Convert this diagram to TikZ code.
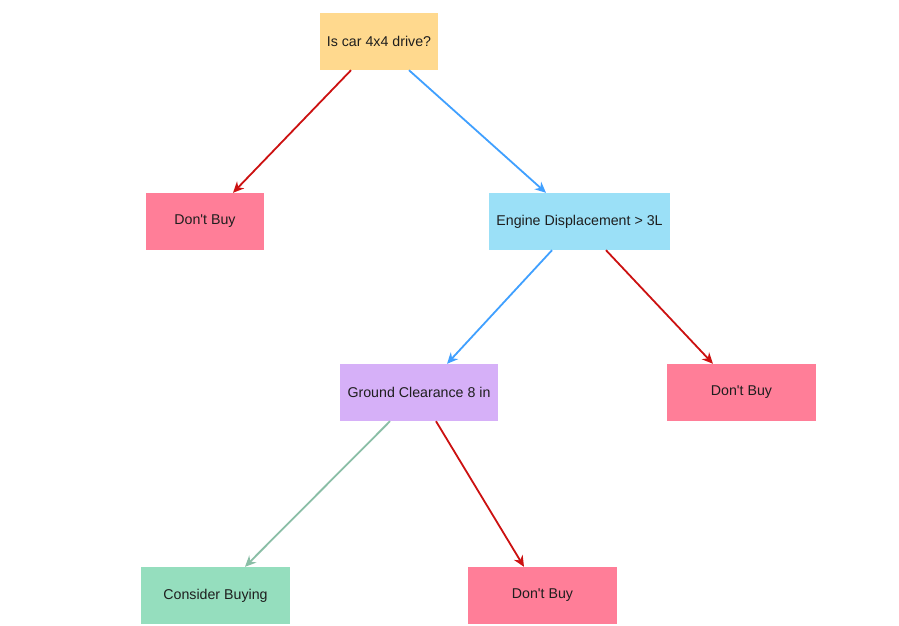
\documentclass[tikz,border=0pt]{standalone}
\usepackage{fontspec}
\setmainfont{Liberation Sans}[Ligatures=TeXOff]
\usetikzlibrary{arrows.meta}

\definecolor{qyellow}{RGB}{255,217,142}
\definecolor{qpink}{RGB}{255,126,152}
\definecolor{qblue}{RGB}{155,224,247}
\definecolor{qpurple}{RGB}{214,176,248}
\definecolor{qgreen}{RGB}{149,222,190}
\definecolor{noedge}{RGB}{204,17,17}
\definecolor{yesedge}{RGB}{64,160,255}
\definecolor{okedge}{RGB}{138,190,166}
\definecolor{txt}{RGB}{30,30,30}

\tikzset{
  box/.style={minimum height=57pt, inner sep=0pt, text=txt,
              font=\fontsize{14.2pt}{16pt}\selectfont},
  link/.style={line width=1.8pt,
               -{Stealth[length=11pt,width=10pt,inset=3.5pt]}},
}

\begin{document}
\begin{tikzpicture}[x=1pt,y=-1pt]
  \useasboundingbox[fill=white] (0,0) rectangle (899,625);

  % decision and outcome boxes
  \node[box, fill=qyellow, minimum width=118pt] (top)      at (379,41.5)  {Is car 4x4 drive?};
  \node[box, fill=qpink,   minimum width=118pt] (nobuyA)   at (205,221.5) {Don't Buy};
  \node[box, fill=qblue,   minimum width=181pt] (engine)   at (579.5,221.5) {Engine Displacement > 3L};
  \node[box, fill=qpurple, minimum width=158pt] (ground)   at (419,392.5) {Ground Clearance 8 in};
  \node[box, fill=qpink,   minimum width=149pt] (nobuyB)   at (741.5,392.5) {Don't Buy};
  \node[box, fill=qgreen,  minimum width=149pt] (consider) at (215.5,595.5) {Consider Buying};
  \node[box, fill=qpink,   minimum width=149pt] (nobuyC)   at (542.5,595.5) {Don't Buy};

  % branches
  \draw[link, noedge]  ([xshift=-28pt]top.south)    -- ([xshift=28pt]nobuyA.north);
  \draw[link, yesedge] ([xshift=30pt]top.south)     -- ([xshift=-33.5pt]engine.north);
  \draw[link, yesedge] ([xshift=-27.5pt]engine.south) -- ([xshift=28pt]ground.north);
  \draw[link, noedge]  ([xshift=26.5pt]engine.south)  -- ([xshift=-28.5pt]nobuyB.north);
  \draw[link, okedge]  ([xshift=-29pt]ground.south) -- ([xshift=29.5pt]consider.north);
  \draw[link, noedge]  ([xshift=17pt]ground.south)  -- ([xshift=-18.5pt]nobuyC.north);
\end{tikzpicture}
\end{document}
